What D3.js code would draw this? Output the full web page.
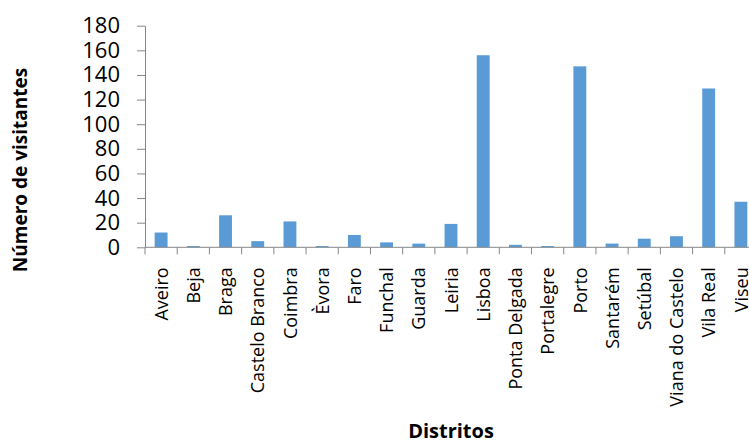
<!DOCTYPE html>
<html>
<head>
<meta charset="utf-8">
<script src="https://cdn.jsdelivr.net/npm/d3@7"></script>
<style>
  body { margin: 0; background: #fff; }
  svg { display: block; font-family: "Open Sans", sans-serif; }
</style>
</head>
<body>
<svg width="749" height="442"></svg>
<script>
var distritos = ["Aveiro", "Beja", "Braga", "Castelo Branco", "Coimbra", "Èvora", "Faro", "Funchal", "Guarda", "Leiria",
                 "Lisboa", "Ponta Delgada", "Portalegre", "Porto", "Santarém", "Setúbal", "Viana do Castelo", "Vila Real", "Viseu"];
var visitantes = [12, 1, 26, 5, 21, 1, 10, 4, 3, 19, 156, 2, 1, 147, 3, 7, 9, 129, 37];
var yTicks = [0, 20, 40, 60, 80, 100, 120, 140, 160, 180];

var svg = d3.select("svg"),
    margin = {top: 25.7, left: 145},
    plotH = 221.6,
    plotW = 612;

var x = d3.scaleBand()
    .domain(distritos)
    .range([margin.left, margin.left + plotW]);

var y = d3.scaleLinear()
    .domain([0, 180])
    .range([margin.top + plotH, margin.top]);

var barW = x.bandwidth() * 0.4;

// bars
svg.append("g").selectAll("rect")
    .data(visitantes)
    .enter().append("rect")
    .attr("x", function(d, i) { return x(distritos[i]) + (x.bandwidth() - barW) / 2; })
    .attr("y", function(d) { return y(d); })
    .attr("width", barW)
    .attr("height", function(d) { return y(0) - y(d); })
    .attr("fill", "#5b9bd5");

// y axis
var yAxis = svg.append("g")
    .attr("transform", "translate(" + margin.left + ",0)")
    .call(d3.axisLeft(y).tickValues(yTicks).tickSize(8).tickPadding(17).tickSizeOuter(0));
yAxis.select(".domain").attr("stroke", "#868686");
yAxis.selectAll(".tick line").attr("stroke", "#868686");
yAxis.selectAll("text")
    .attr("font-size", "22px")
    .attr("font-family", "Open Sans, sans-serif")
    .attr("fill", "#000");

// x axis, ticks between categories
var xAxis = svg.append("g")
    .attr("transform", "translate(0," + y(0) + ")");
xAxis.append("line")
    .attr("x1", margin.left).attr("x2", margin.left + plotW)
    .attr("stroke", "#868686");
xAxis.selectAll(".sep")
    .data(distritos)
    .enter().append("line")
    .attr("class", "sep")
    .attr("x1", function(d) { return x(d); })
    .attr("x2", function(d) { return x(d); })
    .attr("y1", 0).attr("y2", 7)
    .attr("stroke", "#868686");
xAxis.selectAll(".lbl")
    .data(distritos)
    .enter().append("text")
    .attr("class", "lbl")
    .attr("transform", function(d) { return "translate(" + (x(d) + x.bandwidth() / 2) + ",20) rotate(-90)"; })
    .attr("dy", "0.37em")
    .attr("text-anchor", "end")
    .attr("font-size", "18px")
    .text(function(d) { return d; });

// titles
svg.append("text")
    .attr("transform", "translate(27,170) rotate(-90)")
    .attr("text-anchor", "middle")
    .attr("font-size", "19px")
    .attr("font-weight", "bold")
    .text("Número de visitantes");

svg.append("text")
    .attr("x", 451)
    .attr("y", 438)
    .attr("text-anchor", "middle")
    .attr("font-size", "20px")
    .attr("font-weight", "bold")
    .text("Distritos");
</script>
</body>
</html>
